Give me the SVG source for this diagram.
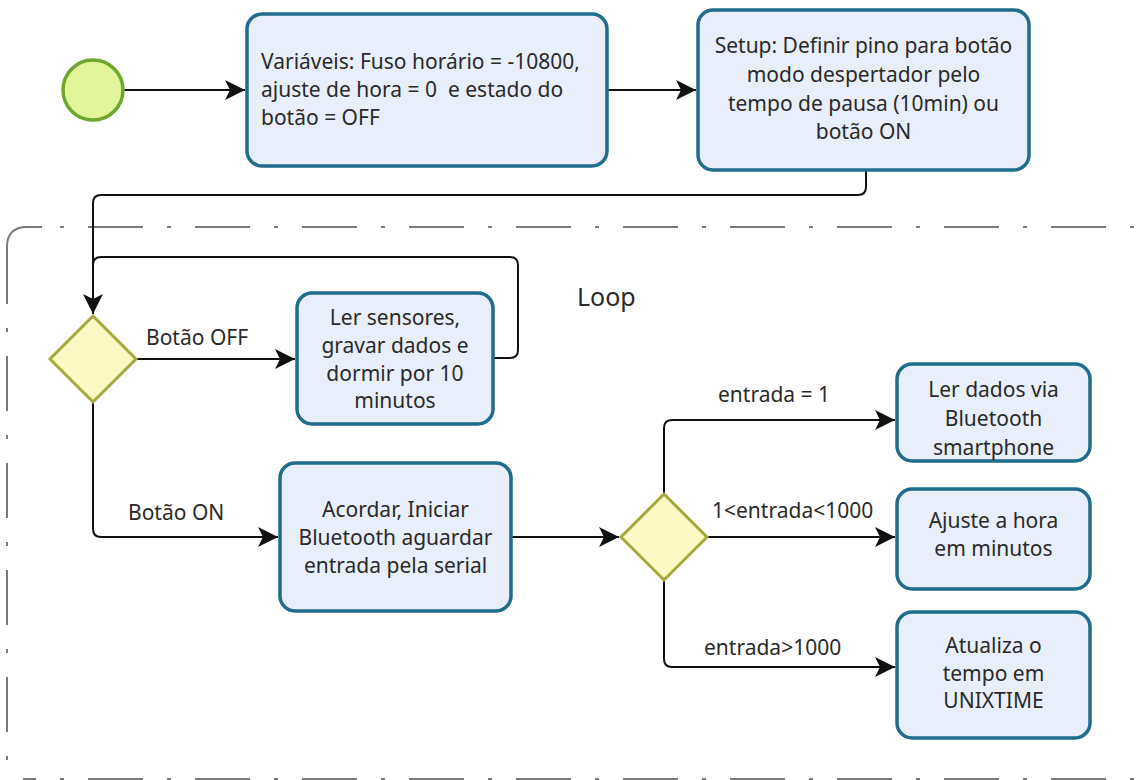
<svg xmlns="http://www.w3.org/2000/svg" width="1137" height="780" viewBox="0 0 1137 780">
<style>
.box{fill:#e9eefb;stroke:#1f6c8c;stroke-width:3.5}
.gw{fill:#fbf9c4;stroke:#a6a83c;stroke-width:3}
.t{font-family:"Noto Sans","Open Sans",sans-serif;font-size:21px;fill:#2a2a2a}
.c{text-anchor:middle}
.con{fill:none;stroke:#111;stroke-width:2}
.grp{fill:none;stroke:#7a7a7a;stroke-width:2}
</style>
<defs>
<marker id="arr" markerUnits="userSpaceOnUse" markerWidth="22" markerHeight="22" refX="20" refY="10" orient="auto" viewBox="0 0 22 22">
<path d="M0,0 L20,10 L0,20 L5,10 Z" fill="#111"/>
</marker>
</defs>
<g id="group-loop">
<path class="grp" d="M7 779 L7 247" stroke-dasharray="55 24 4 24" stroke-dashoffset="60"/>
<path class="grp" d="M7 264 L7 247 Q7 227 27 227 L42 227"/>
<path class="grp" d="M23 227 L1140 227" stroke-dasharray="55 24 4 24" stroke-dashoffset="42"/>
<path class="grp" d="M23 779 L1140 779" stroke-dasharray="55 24 4 24" stroke-dashoffset="42"/>
<text class="t" x="577" y="306" style="font-size:25px">Loop</text>
</g>
<g id="connectors">
<path class="con" d="M124 90 L245 90" marker-end="url(#arr)"/>
<path class="con" d="M607 90 L696 90" marker-end="url(#arr)"/>
<path class="con" d="M866 170 L866 187 Q866 195 858 195 L101 195 Q93 195 93 203 L93 314" marker-end="url(#arr)"/>
<path class="con" d="M493 358 L510 358 Q518 358 518 350 L518 265 Q518 257 510 257 L101 257 Q93 257 93 265"/>
<path class="con" d="M136 359 L295 359" marker-end="url(#arr)"/>
<path class="con" d="M93 402 L93 529 Q93 537 101 537 L278 537" marker-end="url(#arr)"/>
<path class="con" d="M511 537 L619 537" marker-end="url(#arr)"/>
<path class="con" d="M664 494 L664 428 Q664 420 672 420 L895 420" marker-end="url(#arr)"/>
<path class="con" d="M707 537 L895 537" marker-end="url(#arr)"/>
<path class="con" d="M664 580 L664 659 Q664 667 672 667 L895 667" marker-end="url(#arr)"/>
<text class="t" x="146" y="345">Botão OFF</text>
<text class="t" x="128" y="520">Botão ON</text>
<text class="t" x="718" y="402">entrada = 1</text>
<text class="t" x="712" y="518">1&lt;entrada&lt;1000</text>
<text class="t" x="704" y="655">entrada&gt;1000</text>
</g>
<g id="start">
<circle cx="93" cy="90" r="30" fill="#e3f59a" stroke="#6ea62e" stroke-width="3.5"/>
</g>
<g id="variaveis">
<rect class="box" x="247" y="14" width="360" height="152" rx="15"/>
<text class="t" x="261" y="69">Variáveis: Fuso horário = -10800,</text>
<text class="t" x="261" y="97">ajuste de hora = 0&#160; e estado do</text>
<text class="t" x="261" y="125">botão = OFF</text>
</g>
<g id="setup">
<rect class="box" x="698" y="10" width="331" height="160" rx="15"/>
<text class="t c" x="863.5" y="53">Setup: Definir pino para botão</text>
<text class="t c" x="863.5" y="82">modo despertador pelo</text>
<text class="t c" x="863.5" y="111">tempo de pausa (10min) ou</text>
<text class="t c" x="863.5" y="139">botão ON</text>
</g>
<g id="gateway1">
<polygon class="gw" points="93,316 136,359 93,402 50,359"/>
</g>
<g id="ler-sensores">
<rect class="box" x="297" y="293" width="196" height="131" rx="15"/>
<text class="t c" x="395" y="325">Ler sensores,</text>
<text class="t c" x="395" y="353">gravar dados e</text>
<text class="t c" x="395" y="381">dormir por 10</text>
<text class="t c" x="395" y="408">minutos</text>
</g>
<g id="acordar">
<rect class="box" x="280" y="463" width="231" height="148" rx="15"/>
<text class="t c" x="395.5" y="517">Acordar, Iniciar</text>
<text class="t c" x="395.5" y="545">Bluetooth aguardar</text>
<text class="t c" x="395.5" y="573">entrada pela serial</text>
</g>
<g id="gateway2">
<polygon class="gw" points="664,494 707,537 664,580 621,537"/>
</g>
<g id="ler-dados">
<rect class="box" x="897" y="364" width="193" height="97" rx="15"/>
<text class="t c" x="993.5" y="397">Ler dados via</text>
<text class="t c" x="993.5" y="426">Bluetooth</text>
<text class="t c" x="993.5" y="455">smartphone</text>
</g>
<g id="ajuste">
<rect class="box" x="897" y="489" width="193" height="100" rx="15"/>
<text class="t c" x="993.5" y="528">Ajuste a hora</text>
<text class="t c" x="993.5" y="556">em minutos</text>
</g>
<g id="atualiza">
<rect class="box" x="897" y="612" width="193" height="126" rx="15"/>
<text class="t c" x="993.5" y="653">Atualiza o</text>
<text class="t c" x="993.5" y="681">tempo em</text>
<text class="t c" x="993.5" y="708">UNIXTIME</text>
</g>
</svg>
